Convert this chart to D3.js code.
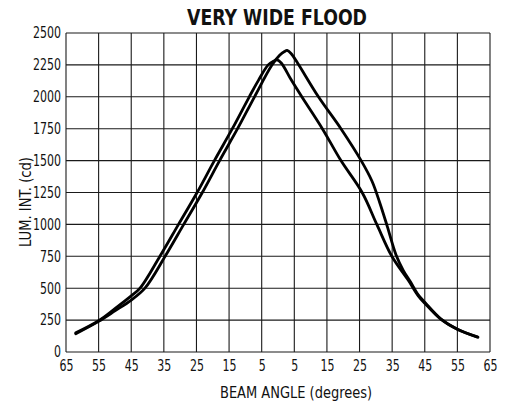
<!DOCTYPE html>
<html>
<head>
<meta charset="utf-8">
<script src="https://cdn.jsdelivr.net/npm/d3@7"></script>
<style>
  html, body { margin: 0; padding: 0; background: #fff; }
  svg { display: block; }
  text { font-family: "Liberation Sans Narrow", "DejaVu Sans Condensed", "Arial Narrow", sans-serif; fill: #111; }
</style>
</head>
<body>
<div id="chart"></div>
<script>
// Luminous intensity distribution, very wide flood beam
const xTicks = [-65, -55, -45, -35, -25, -15, -5, 5, 15, 25, 35, 45, 55, 65];
const yTicks = [0, 250, 500, 750, 1000, 1250, 1500, 1750, 2000, 2250, 2500];

const curveAAngles = [-62, -55, -50, -45, -42.3, -36.2, -30.5, -24.8, -19.5, -14, -8.8, -6, -3, -1.3, -0.3, 1, 4, 7.3, 13.6, 19.3, 25.8, 30.3, 34.9, 40, 43, 45, 50, 55, 61];
const curveAValues = [150, 245, 340, 440, 500, 750, 1000, 1250, 1500, 1750, 2000, 2129, 2250, 2280, 2290, 2265, 2135, 2000, 1750, 1500, 1250, 1000, 750, 560, 440, 382, 255, 178, 118];

const curveBAngles = [-62, -55, -50, -45, -40.8, -34.6, -28.9, -23.2, -17.9, -12.4, -7.2, -1.9, 0.5, 2, 2.8, 4, 6, 12.4, 19.3, 25.5, 28.8, 31.2, 33.5, 36.2, 38.4, 40.6, 43, 45, 50, 55, 61.3];
const curveBValues = [143, 240, 322, 407, 500, 750, 1000, 1250, 1500, 1750, 2000, 2247, 2325, 2355, 2363, 2340, 2265, 2000, 1750, 1500, 1340, 1170, 985, 760, 640, 550, 448, 390, 258, 178, 116];

const W = 513, H = 407;
const margin = { left: 66, right: 23, top: 33, bottom: 55 };
const digitW = 7;

const svg = d3.select("#chart").append("svg")
  .attr("width", W).attr("height", H);

const x = d3.scaleLinear().domain([-65, 65]).range([margin.left, W - margin.right]);
const y = d3.scaleLinear().domain([0, 2500]).range([H - margin.bottom, margin.top]);

// grid
const grid = svg.append("g").attr("stroke", "#1a1a1a").attr("stroke-width", 1.1);
grid.selectAll("line.v").data(xTicks).enter().append("line")
  .attr("x1", d => x(d)).attr("x2", d => x(d))
  .attr("y1", y(0)).attr("y2", y(2500));
grid.selectAll("line.h").data(yTicks).enter().append("line")
  .attr("y1", d => y(d)).attr("y2", d => y(d))
  .attr("x1", x(-65)).attr("x2", x(65));

// axes (labels only, grid forms the frame)
const xAxis = d3.axisBottom(x).tickValues(xTicks).tickFormat(d => Math.abs(d)).tickSize(0).tickPadding(8);
const gx = svg.append("g").attr("transform", `translate(0,${y(0)})`).call(xAxis);
gx.select(".domain").remove();
gx.selectAll("text").attr("font-size", 15).attr("fill", "#111")
  .attr("font-family", null)
  .attr("textLength", function () { return this.textContent.length * digitW; })
  .attr("lengthAdjust", "spacingAndGlyphs");

const yAxis = d3.axisLeft(y).tickValues(yTicks).tickFormat(d3.format("d")).tickSize(0).tickPadding(5);
const gy = svg.append("g").attr("transform", `translate(${x(-65)},0)`).call(yAxis);
gy.select(".domain").remove();
gy.selectAll("text").attr("font-size", 15).attr("fill", "#111")
  .attr("font-family", null)
  .attr("textLength", function () { return this.textContent.length * digitW; })
  .attr("lengthAdjust", "spacingAndGlyphs");

// curves
const line = d3.line()
  .x(d => x(d[0])).y(d => y(d[1]))
  .curve(d3.curveCatmullRom.alpha(0.5));

const seriesA = curveAAngles.map((a, i) => [a, curveAValues[i]]);
const seriesB = curveBAngles.map((a, i) => [a, curveBValues[i]]);

svg.append("g").selectAll("path").data([seriesA, seriesB]).enter().append("path")
  .attr("d", line)
  .attr("fill", "none")
  .attr("stroke", "#000")
  .attr("stroke-width", 2.8)
  .attr("stroke-linejoin", "round")
  .attr("stroke-linecap", "round");

// titles
svg.append("text")
  .attr("x", 277).attr("y", 25)
  .attr("text-anchor", "middle")
  .attr("font-size", 22).attr("font-weight", "bold")
  .attr("textLength", 180).attr("lengthAdjust", "spacingAndGlyphs")
  .text("VERY WIDE FLOOD");

svg.append("text")
  .attr("x", 296).attr("y", 398)
  .attr("text-anchor", "middle")
  .attr("font-size", 15)
  .attr("textLength", 152).attr("lengthAdjust", "spacingAndGlyphs")
  .text("BEAM ANGLE (degrees)");

svg.append("text")
  .attr("transform", "translate(31,202) rotate(-90)")
  .attr("text-anchor", "middle")
  .attr("font-size", 15)
  .attr("textLength", 90).attr("lengthAdjust", "spacingAndGlyphs")
  .text("LUM. INT. (cd)");
</script>
</body>
</html>
